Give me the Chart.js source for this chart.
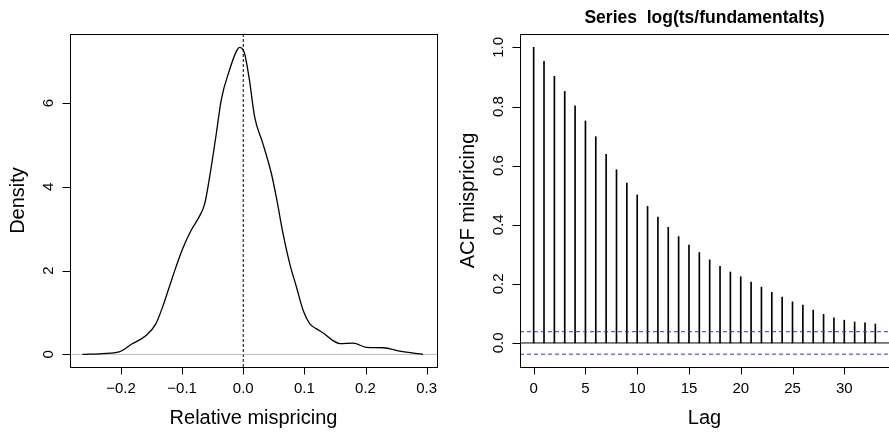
<!DOCTYPE html>
<html>
<head>
<meta charset="utf-8">
<script src="https://cdn.jsdelivr.net/npm/chart.js@4.4.1/dist/chart.umd.min.js"></script>
<style>
  html, body { margin: 0; padding: 0; background: #fff; }
  #wrap { position: relative; width: 889px; height: 433px; }
  canvas { position: absolute; top: 0; }
  #densityChart { left: 0; }
  #acfChart { left: 445px; }
</style>
</head>
<body>
<div id="wrap">
  <canvas id="densityChart" width="445" height="433" style="width:445px;height:433px"></canvas>
  <canvas id="acfChart" width="444" height="433" style="width:444px;height:433px"></canvas>
</div>
<script>
// left panel: kernel density of relative mispricing
const densityX = [-0.263, -0.23, -0.203, -0.181, -0.159, -0.143, -0.132, -0.121, -0.110, -0.099, -0.085, -0.072, -0.063, -0.055, -0.044, -0.036, -0.0225, -0.0115, -0.006, 0.002, 0.010, 0.0185, 0.032, 0.046, 0.054, 0.065, 0.076, 0.087, 0.098, 0.109, 0.120, 0.133, 0.147, 0.158, 0.180, 0.2016, 0.229, 0.256, 0.294];
const densityY = [0.0, 0.02, 0.06, 0.26, 0.45, 0.73, 1.13, 1.61, 2.09, 2.53, 2.97, 3.29, 3.60, 4.24, 5.28, 6.08, 6.79, 7.23, 7.33, 7.19, 6.56, 5.68, 5.04, 4.32, 3.76, 2.89, 2.17, 1.61, 1.05, 0.73, 0.61, 0.49, 0.33, 0.26, 0.27, 0.17, 0.16, 0.08, 0.0];
const densityXTicks = [-0.2, -0.1, 0.0, 0.1, 0.2, 0.3];
const densityYTicks = [0, 2, 4, 6];

// right panel: autocorrelation
const acfLags = [0, 1, 2, 3, 4, 5, 6, 7, 8, 9, 10, 11, 12, 13, 14, 15, 16, 17, 18, 19, 20, 21, 22, 23, 24, 25, 26, 27, 28, 29, 30, 31, 32, 33];
const acfValues = [1.0, 0.953, 0.902, 0.851, 0.802, 0.751, 0.698, 0.638, 0.586, 0.541, 0.501, 0.462, 0.426, 0.391, 0.360, 0.331, 0.306, 0.281, 0.259, 0.240, 0.224, 0.206, 0.189, 0.171, 0.155, 0.139, 0.128, 0.111, 0.097, 0.085, 0.077, 0.071, 0.068, 0.064];
const ciBound = 0.038;
const acfXTicks = [0, 5, 10, 15, 20, 25, 30];
const acfYTicks = [0.0, 0.2, 0.4, 0.6, 0.8, 1.0];

const FONT = '"Liberation Sans", Arial, Helvetica, sans-serif';

// draws R-style box, axes, tick labels and titles from the chart's scales
const rAxes = {
  id: 'rAxes',
  afterDraw(chart, args, o) {
    const { ctx, chartArea: a, scales: { x, y } } = chart;
    ctx.save();
    ctx.strokeStyle = '#000';
    ctx.fillStyle = '#000';
    ctx.lineWidth = 1;
    ctx.strokeRect(Math.round(a.left) + 0.5, Math.round(a.top) + 0.5,
      Math.round(a.right - a.left), Math.round(a.bottom - a.top));

    const bot = Math.round(a.bottom) + 0.5;
    const lft = Math.round(a.left) + 0.5;

    // x axis
    ctx.beginPath();
    const xa = Math.round(x.getPixelForValue(o.xTicks[0])) + 0.5;
    const xb = Math.round(x.getPixelForValue(o.xTicks[o.xTicks.length - 1])) + 0.5;
    ctx.moveTo(xa, bot); ctx.lineTo(xb, bot);
    o.xTicks.forEach(v => {
      const p = Math.round(x.getPixelForValue(v)) + 0.5;
      ctx.moveTo(p, bot); ctx.lineTo(p, bot + 7);
    });
    // y axis
    const ya = Math.round(y.getPixelForValue(o.yTicks[0])) + 0.5;
    const yb = Math.round(y.getPixelForValue(o.yTicks[o.yTicks.length - 1])) + 0.5;
    ctx.moveTo(lft, ya); ctx.lineTo(lft, yb);
    o.yTicks.forEach(v => {
      const p = Math.round(y.getPixelForValue(v)) + 0.5;
      ctx.moveTo(lft, p); ctx.lineTo(lft - 8, p);
    });
    ctx.stroke();

    ctx.font = '15px ' + FONT;
    ctx.textAlign = 'center';
    ctx.textBaseline = 'middle';
    o.xTicks.forEach(v => {
      ctx.fillText(o.xFmt(v), x.getPixelForValue(v), a.bottom + 22);
    });
    o.yTicks.forEach(v => {
      ctx.save();
      ctx.translate(a.left - 21.5, y.getPixelForValue(v));
      ctx.rotate(-Math.PI / 2);
      ctx.fillText(o.yFmt(v), 0, 0);
      ctx.restore();
    });

    ctx.font = '20px ' + FONT;
    ctx.fillText(o.xTitle, (a.left + a.right) / 2, 418);
    ctx.save();
    ctx.translate(a.left - 52, (a.top + a.bottom) / 2);
    ctx.rotate(-Math.PI / 2);
    ctx.fillText(o.yTitle, 0, 0);
    ctx.restore();

    if (o.title) {
      ctx.font = 'bold 17.5px ' + FONT;
      ctx.fillText(o.title, (a.left + a.right) / 2, 18);
    }
    ctx.restore();
  }
};

const minus = s => s.replace('-', '\u2212');

new Chart(document.getElementById('densityChart'), {
  type: 'scatter',
  data: {
    datasets: [
      {
        data: densityX.map((v, i) => ({ x: v, y: densityY[i] })),
        showLine: true,
        borderColor: '#000',
        borderWidth: 1.3,
        pointRadius: 0,
        cubicInterpolationMode: 'monotone'
      },
      {
        data: [{ x: -0.2834, y: 0 }, { x: 0.3169, y: 0 }],
        showLine: true,
        borderColor: '#bebebe',
        borderWidth: 1,
        pointRadius: 0
      },
      {
        data: [{ x: 0, y: -0.3 }, { x: 0, y: 7.65 }],
        showLine: true,
        borderColor: '#000',
        borderWidth: 1,
        borderDash: [3, 2],
        pointRadius: 0
      }
    ]
  },
  options: {
    responsive: false,
    animation: false,
    layout: { padding: { left: 70, top: 34, right: 8, bottom: 66 } },
    scales: {
      x: { type: 'linear', min: -0.2834, max: 0.3169, display: false },
      y: { type: 'linear', min: -0.3, max: 7.65, display: false }
    },
    plugins: {
      legend: { display: false },
      tooltip: { enabled: false },
      rAxes: {
        xTicks: densityXTicks,
        yTicks: densityYTicks,
        xFmt: v => minus(v.toFixed(1)),
        yFmt: v => String(v),
        xTitle: 'Relative mispricing',
        yTitle: 'Density'
      }
    }
  },
  plugins: [rAxes]
});

new Chart(document.getElementById('acfChart'), {
  type: 'bar',
  data: {
    datasets: [
      {
        type: 'line',
        data: [{ x: -1.32, y: 0 }, { x: 34.32, y: 0 }],
        borderColor: '#000',
        borderWidth: 1,
        pointRadius: 0
      },
      {
        type: 'line',
        data: [{ x: -1.32, y: ciBound }, { x: 34.32, y: ciBound }],
        borderColor: '#2b3bb5',
        borderWidth: 1,
        borderDash: [4, 3],
        pointRadius: 0
      },
      {
        type: 'line',
        data: [{ x: -1.32, y: -ciBound }, { x: 34.32, y: -ciBound }],
        borderColor: '#2b3bb5',
        borderWidth: 1,
        borderDash: [4, 3],
        pointRadius: 0
      },
      {
        data: acfLags.map((l, i) => ({ x: l, y: acfValues[i] })),
        backgroundColor: '#000',
        barThickness: 1,
        grouped: false
      }
    ]
  },
  options: {
    responsive: false,
    animation: false,
    layout: { padding: { left: 75, top: 34, right: 0, bottom: 66 } },
    scales: {
      x: { type: 'linear', min: -1.32, max: 34.32, display: false, offset: false },
      y: { type: 'linear', min: -0.0814, max: 1.0454, display: false }
    },
    plugins: {
      legend: { display: false },
      tooltip: { enabled: false },
      rAxes: {
        xTicks: acfXTicks,
        yTicks: acfYTicks,
        xFmt: v => String(v),
        yFmt: v => v.toFixed(1),
        xTitle: 'Lag',
        yTitle: 'ACF mispricing',
        title: 'Series  log(ts/fundamentalts)'
      }
    }
  },
  plugins: [rAxes]
});
</script>
</body>
</html>
